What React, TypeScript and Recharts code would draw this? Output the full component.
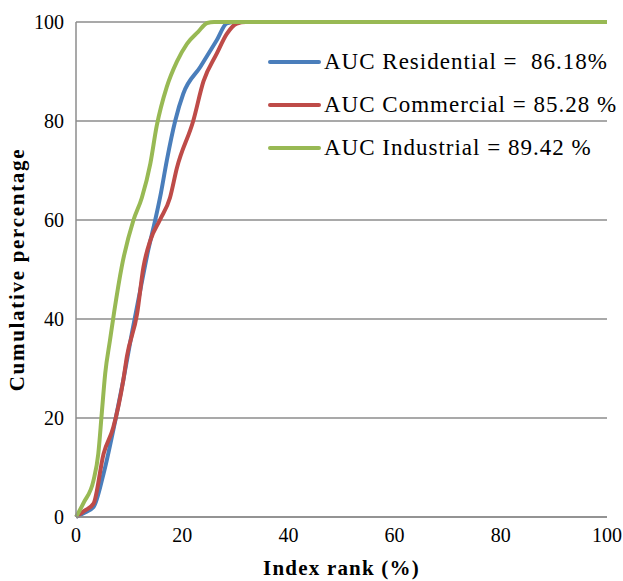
import { LineChart, Line, XAxis, YAxis, CartesianGrid, Legend } from 'recharts'

const xTicks = [0, 20, 40, 60, 80, 100]
const yTicks = [0, 20, 40, 60, 80, 100]

const resX = [0, 1.5, 3.3, 5.2, 7.4, 8.9, 10.5, 12.1, 13.6, 14.9, 16, 17.1, 18.7, 20.2, 23.4, 26.5, 28.4, 30, 100]
const resY = [0, 0.8, 2, 8.8, 19.5, 27.6, 37, 45.8, 53.9, 59.9, 65.5, 72, 80.1, 85.5, 90.9, 96.3, 99.7, 100, 100]

const comX = [0, 1.5, 3.3, 5.2, 7.0, 8.9, 9.6, 11.5, 12.7, 14, 15.8, 17.7, 19, 22.1, 24, 26.5, 28.4, 30.3, 32, 100]
const comY = [0, 1.2, 2.7, 12.8, 18, 27.6, 32.5, 41, 50.5, 55.9, 60, 64.5, 70.5, 80.1, 88, 93.6, 97.6, 99.7, 100, 100]

const indX = [0, 1.5, 3.3, 4.2, 4.85, 5.5, 6.4, 7.2, 8.6, 10.8, 12.4, 14, 15.2, 17.1, 19, 20.9, 23, 24.7, 26, 100]
const indY = [0, 3, 7.4, 12.8, 20.9, 29, 35.7, 41.5, 50.5, 59.9, 64.5, 71.4, 79, 86.9, 92, 95.6, 98, 99.8, 100, 100]

const seriesNames = ['AUC Residential =  86.18%', 'AUC Commercial = 85.28 %', 'AUC Industrial = 89.42 %']
const seriesColors = ['#4A7EBB', '#BE4B48', '#98B954']

const toPoints = (xs: number[], ys: number[]) => xs.map((x, i) => ({ x, y: ys[i] }))

const series = [
  { name: seriesNames[0], color: seriesColors[0], data: toPoints(resX, resY) },
  { name: seriesNames[1], color: seriesColors[1], data: toPoints(comX, comY) },
  { name: seriesNames[2], color: seriesColors[2], data: toPoints(indX, indY) },
]

const FONT = "'Liberation Serif', 'Times New Roman', serif"

function LegendBox() {
  return (
    <div style={{ fontFamily: FONT, fontSize: 23, letterSpacing: 1, color: '#000', textAlign: 'left' }}>
      {series.map((s) => (
        <div key={s.name} style={{ display: 'flex', alignItems: 'center', height: 43, whiteSpace: 'pre' }}>
          <span
            style={{
              display: 'inline-block',
              width: 53,
              height: 4,
              borderRadius: 2,
              background: s.color,
              marginRight: 3,
            }}
          />
          {s.name}
        </div>
      ))}
    </div>
  )
}

export default function App() {
  return (
    <div style={{ position: 'absolute', left: 0, top: 0, width: 623, height: 581, background: '#fff' }}>
      <LineChart width={623} height={581} margin={{ top: 22, right: 16, left: 0, bottom: 0 }}>
        <CartesianGrid horizontal vertical={false} stroke="#8c8c8c" strokeWidth={1.3} />
        <XAxis
          type="number"
          dataKey="x"
          domain={[0, 100]}
          ticks={xTicks}
          tickLine={false}
          axisLine={{ stroke: '#8c8c8c', strokeWidth: 1.5 }}
          tick={{ fill: '#000', fontSize: 20, fontFamily: FONT }}
          tickMargin={5}
          height={64}
          label={{
            value: 'Index rank (%)',
            position: 'insideBottom',
            offset: 6,
            fill: '#000',
            fontSize: 21,
            fontWeight: 'bold',
            fontFamily: FONT,
            style: { letterSpacing: 1.2 },
          }}
        />
        <YAxis
          type="number"
          dataKey="y"
          domain={[0, 100]}
          ticks={yTicks}
          tickLine={false}
          axisLine={{ stroke: '#8c8c8c', strokeWidth: 1.5 }}
          tick={{ fill: '#000', fontSize: 20, fontFamily: FONT }}
          tickMargin={6}
          width={76}
          label={{
            value: 'Cumulative percentage',
            angle: -90,
            position: 'insideLeft',
            offset: 17,
            style: { textAnchor: 'middle', letterSpacing: 1.7 },
            fill: '#000',
            fontSize: 21,
            fontWeight: 'bold',
            fontFamily: FONT,
          }}
        />
        <Legend
          layout="horizontal"
          verticalAlign="middle"
          align="center"
          content={() => <LegendBox />}
          wrapperStyle={{ position: 'absolute', top: 40, left: 268, width: 355 }}
        />
        {series.map((s) => (
          <Line
            key={s.name}
            data={s.data}
            dataKey="y"
            name={s.name}
            type="monotone"
            stroke={s.color}
            strokeWidth={4}
            dot={false}
            isAnimationActive={false}
          />
        ))}
      </LineChart>
    </div>
  )
}
